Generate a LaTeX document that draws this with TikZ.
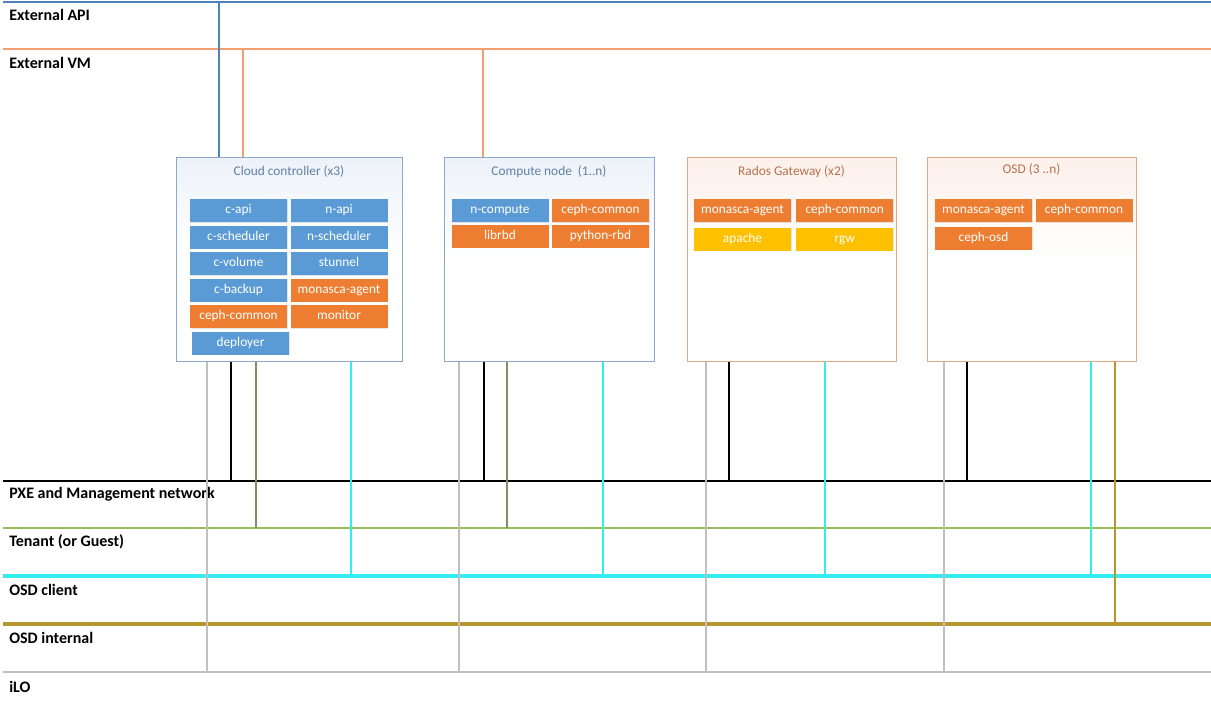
\documentclass[tikz,border=0pt]{standalone}
\usepackage{fontspec}
\setmainfont{Carlito}
\usetikzlibrary{positioning,shadows}
\definecolor{cellblue}{HTML}{5B9BD5}
\definecolor{cellorange}{HTML}{ED7D31}
\definecolor{cellyellow}{HTML}{FFC000}
\definecolor{bluebox}{HTML}{8DA8C8}
\definecolor{bluetitle}{HTML}{5F80A3}
\definecolor{bluetint}{HTML}{EDF2F9}
\definecolor{orangebox}{HTML}{E2A585}
\definecolor{orangetitle}{HTML}{B5704C}
\definecolor{orangetint}{HTML}{FDF0EA}
\definecolor{apiblue}{HTML}{4F81BD}
\definecolor{vmorange}{HTML}{F0A070}
\definecolor{tenantgreen}{HTML}{9BBB59}
\definecolor{tenantlink}{HTML}{7F8F66}
\definecolor{osdcyan}{HTML}{33EEEE}
\definecolor{osdgold}{HTML}{B8962E}
\definecolor{ilogray}{HTML}{C0C0C0}

\begin{document}
\begin{tikzpicture}[x=0.75pt,y=-0.75pt,
  node distance=2.25pt and 2.25pt,
  cell/.style={minimum width=72.75pt,minimum height=17.25pt,inner sep=0pt,
    text=white,text height=6.9pt,text depth=2pt,
    font=\fontsize{10}{12}\selectfont,
    drop shadow={opacity=0.2,shadow xshift=0.6pt,shadow yshift=-0.6pt}},
  blue cell/.style={cell,fill=cellblue},
  orange cell/.style={cell,fill=cellorange},
  yellow cell/.style={cell,fill=cellyellow},
  host/.style={draw,line width=0.75pt,inner sep=0pt,minimum height=153pt,shading angle=45},
  blue host/.style={host,draw=bluebox,top color=bluetint,bottom color=white,middle color=white},
  orange host/.style={host,draw=orangebox,top color=orangetint,bottom color=white,middle color=white},
  title/.style={inner sep=0pt,font=\fontsize{10}{12}\selectfont},
  netlabel/.style={anchor=west,inner sep=0pt,font=\fontsize{12}{14}\selectfont\bfseries},
  api/.style={draw=apiblue,line width=1.1pt},
  vm/.style={draw=vmorange,line width=1.1pt},
  pxe/.style={draw=black,line width=1.5pt},
  tenant/.style={draw=tenantgreen,line width=0.8pt},
  osdc/.style={draw=osdcyan,line width=2.6pt},
  osdi/.style={draw=osdgold,line width=2.4pt},
  ilo/.style={draw=ilogray,line width=1.1pt},
  link/.style={line width=1pt}]
\useasboundingbox (0,0) rectangle (1211,704);

% networks
\coordinate (apiL) at (3,2);     \coordinate (apiR) at (1211,2);
\coordinate (vmL) at (3,49);     \coordinate (vmR) at (1211,49);
\coordinate (pxeL) at (3,481);   \coordinate (pxeR) at (1211,481);
\coordinate (tenL) at (3,528);   \coordinate (tenR) at (1211,528);
\coordinate (osdcL) at (3,576);  \coordinate (osdcR) at (1211,576);
\coordinate (osdiL) at (3,624);  \coordinate (osdiR) at (1211,624);
\coordinate (iloL) at (3,672);   \coordinate (iloR) at (1211,672);
\draw[api] (apiL) -- (apiR);
\draw[vm] (vmL) -- (vmR);
\draw[pxe] (pxeL) -- (pxeR);
\draw[tenant] (tenL) -- (tenR);
\draw[osdc] (osdcL) -- (osdcR);
\draw[osdi] (osdiL) -- (osdiR);
\draw[ilo] (iloL) -- (iloR);
\node[netlabel] (apilbl) at (9,15) {External API};
\node[netlabel] (vmlbl) at (9,63) {External VM};
\node[netlabel] (pxelbl) at (9,494) {PXE and Management network};
\node[netlabel] (tenlbl) at (9,542) {Tenant (or Guest)};
\node[netlabel] (osdclbl) at (9,590) {OSD client};
\node[netlabel] (osdilbl) at (9,638) {OSD internal};
\node[netlabel] (ilolbl) at (9,687) {iLO};

% hosts
\node[blue host,minimum width=169.5pt] (cc) at (289,259) {};
\node[blue host,minimum width=157.5pt] (cn) at (549,259) {};
\node[orange host,minimum width=156.75pt] (rgw) at (791.5,259) {};
\node[orange host,minimum width=156.75pt] (osd) at (1031.5,259) {};
\node[title,text=bluetitle] (cctitle) at ([yshift=-11.25pt]cc.north) {Cloud controller (x3)};
\node[title,text=bluetitle] (cntitle) at ([yshift=-11.25pt]cn.north) {Compute node~ (1..n)};
\node[title,text=orangetitle] (rgwtitle) at ([yshift=-11.25pt]rgw.north) {Rados Gateway (x2)};
\node[title,text=orangetitle] (osdtitle) at ([yshift=-9.75pt]osd.north) {OSD (3 ..n)};

% cloud controller services
\node[blue cell] (capi) at (238.5,210.5) {c-api};
\node[blue cell,right=of capi] (napi) {n-api};
\node[blue cell,below=of capi] (csched) {c-scheduler};
\node[blue cell,right=of csched] (nsched) {n-scheduler};
\node[blue cell,below=of csched] (cvol) {c-volume};
\node[blue cell,right=of cvol] (stunnel) {stunnel};
\node[blue cell,below=of cvol] (cbackup) {c-backup};
\node[orange cell,right=of cbackup] (ccmon) {monasca-agent};
\node[orange cell,below=of cbackup] (ccceph) {ceph-common};
\node[orange cell,right=of ccceph] (monitor) {monitor};
\node[blue cell,below=of ccceph,xshift=1.5pt] (deployer) {deployer};

% compute node services
\node[blue cell] (ncompute) at (500,210.5) {n-compute};
\node[orange cell,right=of ncompute] (cnceph) {ceph-common};
\node[orange cell,below=1.5pt of ncompute] (librbd) {librbd};
\node[orange cell,right=of librbd] (pyrbd) {python-rbd};

% rados gateway services
\node[orange cell] (rgwmon) at (742.5,210.5) {monasca-agent};
\node[orange cell,right=3.5pt of rgwmon] (rgwceph) {ceph-common};
\node[yellow cell,below=3.75pt of rgwmon] (apache) {apache};
\node[yellow cell,right=3.5pt of apache] (rgwd) {rgw};

% osd services
\node[orange cell] (osdmon) at (983.5,210.5) {monasca-agent};
\node[orange cell,right=of osdmon] (osdceph) {ceph-common};
\node[orange cell,below=3pt of osdmon] (cephosd) {ceph-osd};

% uplinks
\draw[link,draw=apiblue] (cc.north -| 219,0) -- (apiL -| 219,0);
\draw[link,draw=vmorange] (cc.north -| 243,0) -- (vmL -| 243,0);
\draw[link,draw=vmorange] (cn.north -| 483,0) -- (vmL -| 483,0);

% downlinks
\draw[link,draw=ilogray] (cc.south -| 207,0) -- (iloL -| 207,0);
\draw[link,draw=black] (cc.south -| 231,0) -- (pxeL -| 231,0);
\draw[link,draw=tenantlink] (cc.south -| 256,0) -- (tenL -| 256,0);
\draw[link,draw=osdcyan] (cc.south -| 351,0) -- (osdcL -| 351,0);
\draw[link,draw=ilogray] (cn.south -| 459,0) -- (iloL -| 459,0);
\draw[link,draw=black] (cn.south -| 484,0) -- (pxeL -| 484,0);
\draw[link,draw=tenantlink] (cn.south -| 507,0) -- (tenL -| 507,0);
\draw[link,draw=osdcyan] (cn.south -| 603,0) -- (osdcL -| 603,0);
\draw[link,draw=ilogray] (rgw.south -| 706,0) -- (iloL -| 706,0);
\draw[link,draw=black] (rgw.south -| 729,0) -- (pxeL -| 729,0);
\draw[link,draw=osdcyan] (rgw.south -| 825,0) -- (osdcL -| 825,0);
\draw[link,draw=ilogray] (osd.south -| 944,0) -- (iloL -| 944,0);
\draw[link,draw=black] (osd.south -| 967,0) -- (pxeL -| 967,0);
\draw[link,draw=osdcyan] (osd.south -| 1091,0) -- (osdcL -| 1091,0);
\draw[link,draw=osdgold] (osd.south -| 1115,0) -- (osdiL -| 1115,0);
\end{tikzpicture}
\end{document}
